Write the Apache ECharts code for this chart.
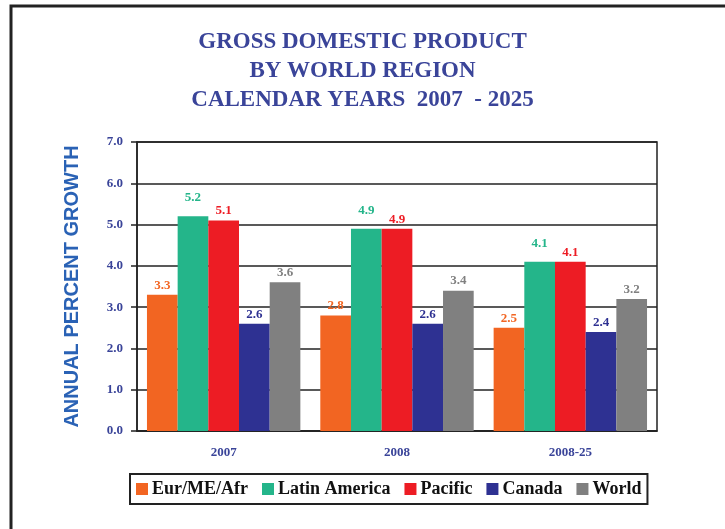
<!DOCTYPE html>
<html>
<head>
<meta charset="utf-8">
<script src="https://cdn.jsdelivr.net/npm/echarts@6/dist/echarts.min.js"></script>
<style>
  html, body { margin: 0; padding: 0; background: #fff; }
  #main { width: 725px; height: 529px; }
</style>
</head>
<body>
<div id="main"></div>
<script>
var years = ['2007', '2008', '2008-25'];
var regions = ['Eur/ME/Afr', 'Latin America', 'Pacific', 'Canada', 'World'];
var colors = ['#f26522', '#24b58a', '#ed1c24', '#2e3192', '#808080'];
var eurMeAfr = [3.3, 2.8, 2.5];
var latinAmerica = [5.2, 4.9, 4.1];
var pacific = [5.1, 4.9, 4.1];
var canada = [2.6, 2.6, 2.4];
var world = [3.6, 3.4, 3.2];
var values = [eurMeAfr, latinAmerica, pacific, canada, world];

var serif = '"Liberation Serif", "Times New Roman", serif';
var myChart = echarts.init(document.getElementById('main'));

var series = regions.map(function (name, i) {
    return {
        name: name,
        type: 'bar',
        data: values[i],
        barGap: 0,
        barCategoryGap: '11.5%',
        itemStyle: { color: colors[i] },
        label: {
            show: true,
            position: 'top',
            distance: i === 1 ? 12 : 3,
            color: colors[i],
            fontFamily: serif,
            fontWeight: 'bold',
            fontSize: 13,
            formatter: function (p) {
                return p.value.toFixed(1);
            }
        }
    };
});

option = {
    animation: false,
    backgroundColor: '#fff',
    title: {
        text: 'GROSS DOMESTIC PRODUCT\nBY WORLD REGION\nCALENDAR YEARS  2007  - 2025',
        left: 'center',
        top: 23,
        textStyle: {
            color: '#3a4499',
            fontFamily: serif,
            fontWeight: 'bold',
            fontSize: 23,
            lineHeight: 29
        }
    },
    graphic: [{
        type: 'rect',
        shape: { x: 11, y: 6, width: 800, height: 600 },
        style: { fill: 'none', stroke: '#222', lineWidth: 3 }
    }],
    legend: {
        data: regions,
        left: 130,
        top: 474,
        padding: [6, 6],
        borderColor: '#222',
        borderWidth: 2,
        itemWidth: 12,
        itemHeight: 12,
        itemGap: 14,
        icon: 'rect',
        textStyle: {
            color: '#111',
            fontFamily: serif,
            fontWeight: 'bold',
            fontSize: 18,
            padding: [0, 0, 0, -1]
        }
    },
    grid: {
        left: 137,
        right: 68,
        top: 142,
        bottom: 98,
        show: true,
        borderColor: '#222',
        borderWidth: 1.5
    },
    xAxis: {
        type: 'category',
        data: years,
        axisLine: { lineStyle: { color: '#222', width: 1.5 } },
        axisTick: { show: false },
        axisLabel: {
            margin: 15,
            color: '#3a4499',
            fontFamily: serif,
            fontWeight: 'bold',
            fontSize: 13
        }
    },
    yAxis: {
        type: 'value',
        min: 0,
        max: 7,
        interval: 1,
        name: 'ANNUAL PERCENT GROWTH',
        nameLocation: 'middle',
        nameRotate: 90,
        nameGap: 55,
        nameTextStyle: {
            color: '#2a62b5',
            fontFamily: '"Liberation Sans", Arial, sans-serif',
            fontWeight: 'bold',
            fontSize: 20
        },
        axisLine: { show: true, lineStyle: { color: '#222', width: 1.5 } },
        axisTick: { show: true, inside: false, length: 6, lineStyle: { color: '#222', width: 1.5 } },
        splitLine: { lineStyle: { color: '#222', width: 1.5 } },
        axisLabel: {
            margin: 14,
            color: '#3a4499',
            fontFamily: serif,
            fontWeight: 'bold',
            fontSize: 13,
            formatter: function (v) { return v.toFixed(1); }
        }
    },
    series: series
};
myChart.setOption(option);
</script>
</body>
</html>
